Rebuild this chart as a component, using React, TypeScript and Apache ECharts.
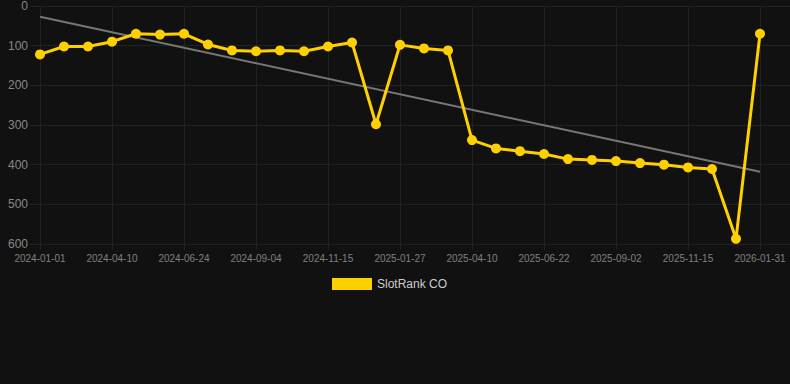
import React, { useEffect, useRef } from "react";
import * as echarts from "echarts";

const dates = [
  "2024-01-01", "2024-02-03", "2024-03-07", "2024-04-10", "2024-05-05", "2024-05-30",
  "2024-06-24", "2024-07-16", "2024-08-10", "2024-09-04", "2024-09-28", "2024-10-22",
  "2024-11-15", "2024-12-09", "2025-01-03", "2025-01-27", "2025-02-20", "2025-03-17",
  "2025-04-10", "2025-05-04", "2025-05-28", "2025-06-22", "2025-07-16", "2025-08-09",
  "2025-09-02", "2025-09-26", "2025-10-21", "2025-11-15", "2025-12-10", "2026-01-05",
  "2026-01-31",
];

const rankValues = [
  122, 102, 102, 90, 70, 72, 70, 97, 112, 114, 112, 114, 102, 92, 298, 98, 107, 112,
  338, 359, 366, 373, 386, 388, 391, 396, 400, 407, 411, 587, 70,
];

const trendStart = 27;
const trendEnd = 418;

const labelIndices = [0, 3, 6, 9, 12, 15, 18, 21, 24, 27, 30];
const yTicks = [0, 100, 200, 300, 400, 500, 600];

export default function App() {
  const ref = useRef<HTMLDivElement>(null);

  useEffect(() => {
    if (!ref.current) return;
    document.body.style.margin = "0";
    document.body.style.background = "#111111";
    const chart = echarts.init(ref.current, undefined, { renderer: "svg" });
    const last = rankValues.length - 1;
    const gridColor = "#222222";
    chart.setOption({
      animation: false,
      backgroundColor: "#111111",
      grid: { left: 30, right: 0, top: 6, bottom: 140, containLabel: false },
      legend: {
        show: true,
        top: 273,
        left: 327,
        itemWidth: 40,
        itemHeight: 12,
        itemGap: 10,
        icon: "rect",
        data: ["SlotRank CO"],
        textStyle: { color: "#cccccc", fontSize: 12, fontFamily: "Liberation Sans, Arial, sans-serif" },
      },
      xAxis: {
        type: "value",
        min: -10 / 24,
        max: last + 30 / 24,
        axisLine: { show: false, onZero: false },
        axisTick: {
          show: true,
          length: 6,
          lineStyle: { color: gridColor },
          customValues: labelIndices,
        },
        axisLabel: {
          customValues: labelIndices,
          color: "#808080",
          fontSize: 10,
          margin: 9,
          fontFamily: "Liberation Sans, Arial, sans-serif",
          formatter: (v: number) => dates[Math.round(v)] ?? "",
        },
        splitLine: { show: true, lineStyle: { color: gridColor, width: 1 } },
      },
      yAxis: {
        type: "value",
        inverse: true,
        min: 0,
        max: 600,
        interval: 100,
        axisLine: { show: false },
        axisTick: { show: false },
        axisLabel: {
          color: "#888888",
          fontSize: 12,
          margin: 2,
          fontFamily: "Liberation Sans, Arial, sans-serif",
          formatter: (v: number) => (yTicks.includes(v) ? String(v) : ""),
        },
        splitLine: { show: true, lineStyle: { color: gridColor, width: 1 } },
      },
      series: [
        {
          name: "Trend",
          type: "line",
          data: [[0, trendStart], [last, trendEnd]],
          symbol: "none",
          lineStyle: { color: "#777777", width: 2 },
          itemStyle: { color: "#777777" },
          z: 1,
          silent: true,
        },
        {
          name: "SlotRank CO",
          type: "line",
          data: rankValues.map((v, i) => [i, v]),
          symbol: "circle",
          symbolSize: 10,
          lineStyle: { color: "#FFD000", width: 3 },
          itemStyle: { color: "#FFD000" },
          z: 2,
        },
      ],
    });
    return () => chart.dispose();
  }, []);

  return (
    <div style={{ position: "fixed", left: 0, top: 0, width: 790, height: 384, background: "#111111" }}>
      <div ref={ref} style={{ width: 790, height: 384 }} />
    </div>
  );
}
